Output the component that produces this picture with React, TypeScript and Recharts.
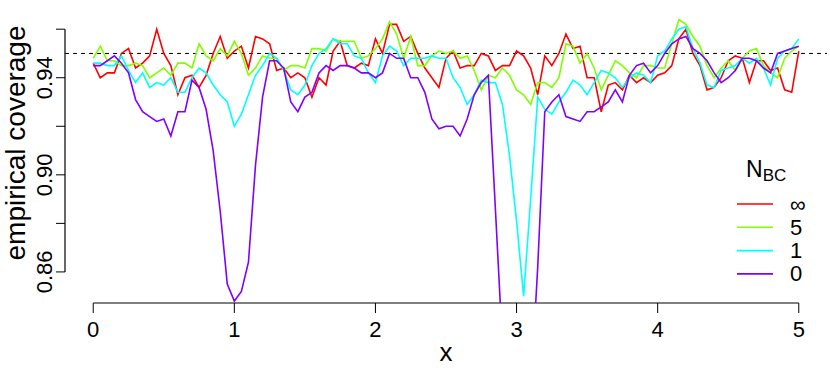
import { Legend, Line, LineChart, ReferenceLine, XAxis, YAxis, Label } from "recharts";

// grid of x values
const xs = [
  0, 0.05, 0.1, 0.15, 0.2, 0.25, 0.3, 0.35, 0.4, 0.45,
  0.5, 0.55, 0.6, 0.65, 0.7, 0.75, 0.8, 0.85, 0.9, 0.95,
  1, 1.05, 1.1, 1.15, 1.2, 1.25, 1.3, 1.35, 1.4, 1.45,
  1.5, 1.55, 1.6, 1.65, 1.7, 1.75, 1.8, 1.85, 1.9, 1.95,
  2, 2.05, 2.1, 2.15, 2.2, 2.25, 2.3, 2.35, 2.4, 2.45,
  2.5, 2.55, 2.6, 2.65, 2.7, 2.75, 2.8, 2.85, 2.9, 2.95,
  3, 3.05, 3.1, 3.15, 3.2, 3.25, 3.3, 3.35, 3.4, 3.45,
  3.5, 3.55, 3.6, 3.65, 3.7, 3.75, 3.8, 3.85, 3.9, 3.95,
  4, 4.05, 4.1, 4.15, 4.2, 4.25, 4.3, 4.35, 4.4, 4.45,
  4.5, 4.55, 4.6, 4.65, 4.7, 4.75, 4.8, 4.85, 4.9, 4.95,
  5,
];

// N_BC = infinity
const covInf = [
  0.946, 0.94, 0.942, 0.942, 0.95, 0.952, 0.944, 0.946, 0.949, 0.96,
  0.95, 0.945, 0.933, 0.94, 0.941, 0.936, 0.941, 0.95, 0.957, 0.948,
  0.951, 0.953, 0.944, 0.957, 0.956, 0.954, 0.943, 0.944, 0.94, 0.942,
  0.94, 0.932, 0.94, 0.937, 0.951, 0.955, 0.945, 0.944, 0.946, 0.945,
  0.956, 0.95, 0.962, 0.962, 0.955, 0.957, 0.95, 0.944, 0.94, 0.936,
  0.948, 0.951, 0.944, 0.945, 0.945, 0.95, 0.949, 0.943, 0.945, 0.945,
  0.951, 0.949, 0.944, 0.933, 0.949, 0.945, 0.95, 0.958, 0.952, 0.953,
  0.94, 0.94, 0.926, 0.937, 0.938, 0.935, 0.941, 0.938, 0.94, 0.938,
  0.941, 0.942, 0.945, 0.956, 0.96, 0.95, 0.945, 0.935, 0.936, 0.94,
  0.947, 0.949, 0.948, 0.938, 0.947, 0.947, 0.943, 0.944, 0.935, 0.934,
  0.951,
];

// N_BC = 5
const cov5 = [
  0.948, 0.953, 0.947, 0.947, 0.945, 0.945, 0.946, 0.945, 0.94, 0.942,
  0.944, 0.941, 0.946, 0.946, 0.944, 0.954, 0.949, 0.947, 0.952, 0.949,
  0.955, 0.95, 0.941, 0.944, 0.949, 0.948, 0.948, 0.943, 0.945, 0.945,
  0.944, 0.952, 0.952, 0.951, 0.956, 0.955, 0.955, 0.955, 0.948, 0.949,
  0.952, 0.956, 0.963, 0.958, 0.948, 0.957, 0.945, 0.945, 0.949, 0.951,
  0.95, 0.951, 0.948, 0.949, 0.943, 0.935, 0.941, 0.94, 0.944, 0.941,
  0.935, 0.933, 0.929, 0.938, 0.938, 0.936, 0.94, 0.954, 0.953, 0.946,
  0.95, 0.944, 0.935, 0.941, 0.947, 0.945, 0.942, 0.94, 0.945, 0.945,
  0.944, 0.944, 0.954, 0.964, 0.962, 0.957, 0.953, 0.945, 0.94, 0.944,
  0.947, 0.943, 0.948, 0.951, 0.952, 0.945, 0.942, 0.94, 0.948, 0.951,
  0.953,
];

// N_BC = 1
const cov1 = [
  0.946, 0.946, 0.945, 0.945, 0.949, 0.943, 0.938, 0.942, 0.936, 0.938,
  0.937, 0.94, 0.934, 0.934, 0.94, 0.944, 0.942, 0.937, 0.933, 0.93,
  0.92, 0.925, 0.933, 0.941, 0.945, 0.95, 0.948, 0.943, 0.935, 0.933,
  0.937, 0.945, 0.95, 0.952, 0.956, 0.954, 0.954, 0.949, 0.948, 0.942,
  0.938, 0.949, 0.953, 0.951, 0.945, 0.948, 0.948, 0.948, 0.949, 0.948,
  0.948, 0.94, 0.936, 0.929, 0.933, 0.939, 0.938, 0.938, 0.929, 0.908,
  0.881, 0.85, 0.89, 0.932, 0.927, 0.925, 0.93, 0.934, 0.939, 0.937,
  0.933, 0.938, 0.943, 0.942, 0.94, 0.936, 0.94, 0.942, 0.941, 0.938,
  0.949, 0.951, 0.956, 0.96, 0.961, 0.952, 0.946, 0.937, 0.936, 0.943,
  0.944, 0.945, 0.948, 0.946, 0.948, 0.944, 0.937, 0.948, 0.951, 0.952,
  0.956,
];

// N_BC = 0
const cov0 = [
  0.945, 0.945, 0.947, 0.949, 0.946, 0.942, 0.931, 0.926, 0.924, 0.922,
  0.923, 0.916, 0.926, 0.926, 0.939, 0.936, 0.927, 0.91, 0.885, 0.855,
  0.848, 0.852, 0.864, 0.904, 0.932, 0.947, 0.947, 0.944, 0.93, 0.926,
  0.932, 0.934, 0.942, 0.945, 0.943, 0.945, 0.945, 0.944, 0.942, 0.942,
  0.94, 0.942, 0.95, 0.948, 0.948, 0.94, 0.94, 0.934, 0.923, 0.919,
  0.92, 0.92, 0.916, 0.923, 0.933, 0.938, 0.941, 0.886, 0.83, 0.8,
  0.79, 0.795, 0.81, 0.862, 0.926, 0.93, 0.933, 0.924, 0.923, 0.922,
  0.926, 0.926, 0.928, 0.93, 0.935, 0.93, 0.941, 0.945, 0.946, 0.942,
  0.945, 0.95, 0.954, 0.956, 0.957, 0.952, 0.95, 0.947, 0.942, 0.938,
  0.94, 0.943, 0.948, 0.948, 0.947, 0.944, 0.942, 0.95, 0.951, 0.952,
  0.953,
];

const xTicks = [0, 1, 2, 3, 4, 5];
const yTicks = [0.86, 0.88, 0.9, 0.92, 0.94, 0.96];
const yLabelled = [0.86, 0.9, 0.94];
const nominal = 0.95;

const series = [
  { key: "inf", name: "\u221e", color: "#FF0000", values: covInf },
  { key: "n5", name: "5", color: "#80FF00", values: cov5 },
  { key: "n1", name: "1", color: "#00FFFF", values: cov1 },
  { key: "n0", name: "0", color: "#8000FF", values: cov0 },
];

const data = xs.map((x, i) => {
  const row: Record<string, number> = { x };
  series.forEach((s) => (row[s.key] = s.values[i]));
  return row;
});

const FONT = "'Liberation Sans', Arial, Helvetica, sans-serif";
const Y_MIN = 0.8472;
const Y_MAX = 0.9644;

const XTick = ({ x, payload }: any) => (
  <text x={x} y={337} textAnchor="middle" fontSize={22} fontFamily={FONT} fill="#000">
    {payload.value}
  </text>
);

const YTick = ({ y, payload }: any) => {
  if (!yLabelled.some((v) => Math.abs(v - payload.value) < 1e-6)) return null;
  return (
    <text
      x={52}
      y={y}
      transform={`rotate(-90, 52, ${y})`}
      textAnchor="middle"
      fontSize={22}
      fontFamily={FONT}
      fill="#000"
    >
      {payload.value.toFixed(2)}
    </text>
  );
};

// legend drawn in the order of the series, not sorted
const renderLegend = ({ payload }: any) => {
  const items = series
    .map((s) => (payload || []).find((p: any) => p.value === s.name))
    .filter(Boolean);
  return (
    <svg width={110} height={140} style={{ overflow: "visible" }}>
      <text x={21} y={32} fontSize={23} fontFamily={FONT} fill="#000">
        N
        <tspan dy={4} fontSize={17}>
          BC
        </tspan>
      </text>
      {items.map((p: any, i: number) => (
        <g key={p.value}>
          <line x1={12} x2={48} y1={59 + i * 23.3} y2={59 + i * 23.3} stroke={p.color} strokeWidth={1.6} />
          <text
            x={65}
            y={59 + i * 23.3}
            dominantBaseline="central"
            fontSize={22}
            fontFamily={FONT}
            fill="#000"
          >
            {p.value}
          </text>
        </g>
      ))}
    </svg>
  );
};

export default function App() {
  return (
    <div style={{ position: "absolute", left: 0, top: 0, background: "#fff" }}>
      <LineChart
        width={830}
        height={368}
        data={data}
        margin={{ top: 18.5, right: 3, bottom: 0, left: 0 }}
      >
        <XAxis
          dataKey="x"
          type="number"
          domain={[-0.2, 5.2]}
          ticks={xTicks}
          allowDataOverflow
          height={65}
          axisLine={false}
          tickSize={10}
          tickLine={{ stroke: "#000", strokeWidth: 1 }}
          tick={<XTick />}
          interval={0}
        >
          <Label
            content={({ viewBox }: any) => (
              <text
                x={viewBox.x + viewBox.width / 2}
                y={viewBox.y + 58}
                textAnchor="middle"
                fontSize={26}
                fontFamily={FONT}
                fill="#000"
              >
                x
              </text>
            )}
          />
        </XAxis>
        <YAxis
          type="number"
          domain={[Y_MIN, Y_MAX]}
          ticks={yTicks}
          allowDataOverflow
          width={65}
          axisLine={false}
          tickSize={9}
          tickLine={{ stroke: "#000", strokeWidth: 1 }}
          tick={<YTick />}
          interval={0}
        >
          <Label
            content={() => {
              const cy = 143;
              return (
                <text
                  x={25}
                  y={cy}
                  transform={`rotate(-90, 25, ${cy})`}
                  textAnchor="middle"
                  fontSize={28}
                  fontFamily={FONT}
                  fill="#000"
                >
                  empirical coverage
                </text>
              );
            }}
          />
        </YAxis>
        <ReferenceLine
          segment={[
            { x: 0, y: Y_MIN },
            { x: 5, y: Y_MIN },
          ]}
          stroke="#000"
          strokeWidth={1.2}
          ifOverflow="visible"
        />
        <ReferenceLine
          segment={[
            { x: -0.2, y: 0.86 },
            { x: -0.2, y: 0.96 },
          ]}
          stroke="#000"
          strokeWidth={1.2}
          ifOverflow="visible"
        />
        <ReferenceLine y={nominal} stroke="#000" strokeWidth={1} strokeDasharray="4 4" />
        {series.map((s) => (
          <Line
            key={s.key}
            type="linear"
            dataKey={s.key}
            name={s.name}
            stroke={s.color}
            strokeWidth={1.6}
            dot={false}
            activeDot={false}
            isAnimationActive={false}
          />
        ))}
        <Legend
          layout="horizontal"
          verticalAlign="middle"
          align="center"
          content={renderLegend}
          wrapperStyle={{ left: 725, top: 145, width: 110, height: 140 }}
        />
      </LineChart>
    </div>
  );
}
